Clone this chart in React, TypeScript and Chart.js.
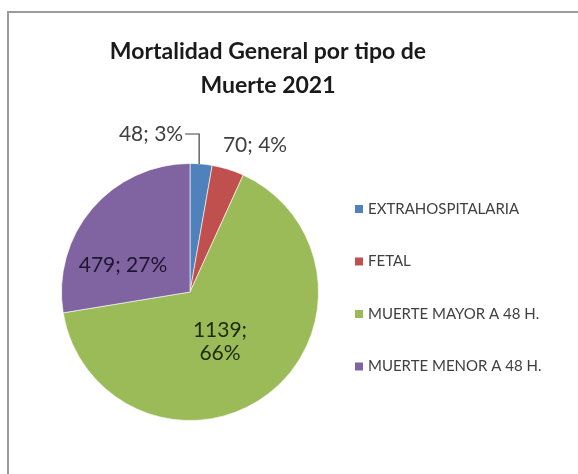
import React, { useEffect, useRef } from "react";
import { Chart, registerables } from "chart.js";

Chart.register(...registerables);

const categories = [
  "EXTRAHOSPITALARIA",
  "FETAL",
  "MUERTE MAYOR A 48 H.",
  "MUERTE MENOR A 48 H.",
];
const values = [48, 70, 1139, 479];
const percentLabels = ["3%", "4%", "66%", "27%"];
const titleLines = ["Mortalidad General por tipo de", "Muerte 2021"];
const colors = ["#4F81BD", "#C0504D", "#9BBB59", "#8064A2"];

const FONT = "Lato, 'Open Sans', sans-serif";

const decorPlugin = {
  id: "decor",
  beforeDraw(chart: any) {
    const ctx = chart.ctx;
    ctx.save();
    ctx.fillStyle = "#ffffff";
    ctx.fillRect(0, 0, chart.width, chart.height);
    // frame (top + left visible)
    ctx.strokeStyle = "#9a9a9a";
    ctx.lineWidth = 2;
    ctx.beginPath();
    ctx.moveTo(8, chart.height);
    ctx.lineTo(8, 12);
    ctx.lineTo(chart.width, 12);
    ctx.stroke();
    ctx.restore();
  },
  afterDraw(chart: any) {
    const ctx = chart.ctx;
    ctx.save();
    // title
    ctx.fillStyle = "#1a1a1a";
    ctx.font = `bold 23px ${FONT}`;
    ctx.textAlign = "center";
    ctx.textBaseline = "middle";
    ctx.fillText(titleLines[0], 268, 52);
    ctx.fillText(titleLines[1], 268, 86);

    // data labels
    const meta = chart.getDatasetMeta(0);
    const arcs = meta.data;
    ctx.font = `21px ${FONT}`;
    arcs.forEach((arc: any, i: number) => {
      const { x, y, startAngle, endAngle, outerRadius } = arc.getProps(
        ["x", "y", "startAngle", "endAngle", "outerRadius"],
        true
      );
      const mid = (startAngle + endAngle) / 2;
      const cx = x + Math.cos(mid) * outerRadius;
      const cy = y + Math.sin(mid) * outerRadius;
      const txt = `${values[i]}; ${percentLabels[i]}`;
      if (i === 0) {
        // outside with leader line
        ctx.fillStyle = "#404040";
        ctx.textAlign = "right";
        ctx.fillText(txt, cx - 18, cy - 30);
        ctx.strokeStyle = "#404040";
        ctx.lineWidth = 1.2;
        ctx.beginPath();
        ctx.moveTo(cx - 16, cy - 30);
        ctx.lineTo(cx - 2, cy - 30);
        ctx.lineTo(cx - 2, cy);
        ctx.stroke();
      } else if (i === 1) {
        ctx.fillStyle = "#404040";
        ctx.textAlign = "center";
        ctx.fillText(txt, cx + 27, cy - 24);
      } else if (i === 2) {
        ctx.fillStyle = "#1e2a10";
        ctx.textAlign = "center";
        ctx.fillText(`${values[i]};`, x + 30, y + 38);
        ctx.fillText(percentLabels[i], x + 30, y + 61);
      } else {
        ctx.fillStyle = "#1e1530";
        ctx.textAlign = "center";
        ctx.fillText(txt, x - 67, y - 27);
      }
    });

    // legend
    ctx.font = `15px ${FONT}`;
    ctx.textAlign = "left";
    ctx.textBaseline = "middle";
    categories.forEach((c, i) => {
      const ly = 209 + i * 52.5;
      ctx.fillStyle = colors[i];
      ctx.fillRect(355, ly - 4, 8, 8);
      ctx.fillStyle = "#404040";
      ctx.fillText(c, 368, ly);
    });
    ctx.restore();
  },
};

export default function App() {
  const ref = useRef<HTMLCanvasElement>(null);
  useEffect(() => {
    document.body.style.margin = "0";
    const chart = new Chart(ref.current!, {
      type: "pie",
      data: {
        labels: categories,
        datasets: [
          {
            data: values,
            backgroundColor: colors,
            borderColor: "rgba(255,255,255,0.6)",
            borderWidth: 1,
          },
        ],
      },
      options: {
        animation: false,
        responsive: false,
        layout: { padding: { left: 61, right: 259, top: 162, bottom: 52 } },
        plugins: {
          legend: { display: false },
          tooltip: { enabled: false },
          title: { display: false },
        },
      },
      plugins: [decorPlugin],
    });
    return () => chart.destroy();
  }, []);
  return (
    <div style={{ width: 578, height: 474 }}>
      <canvas ref={ref} width={578} height={474} style={{ display: "block" }} />
    </div>
  );
}
